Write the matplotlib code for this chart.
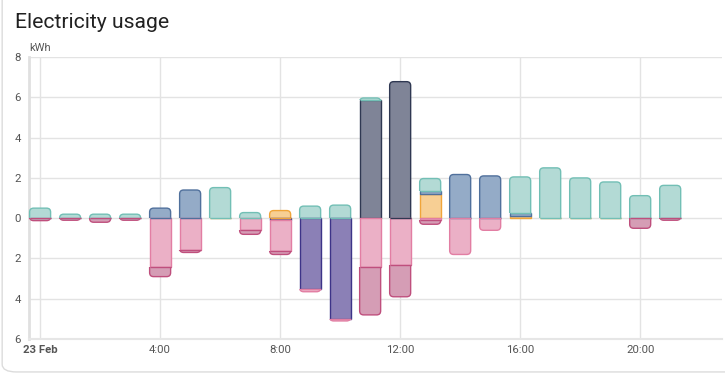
import numpy as np
import matplotlib.pyplot as plt
from matplotlib.patches import FancyBboxPatch, Rectangle

plt.rcParams['font.family'] = ['Roboto', 'DejaVu Sans']

hours = np.arange(22)

# positive stacks (kWh consumed), bottom to top
solar = [0, 0, 0, 0, 0, 0, 0.02, 0.03, 0.38, 0, 0, 0, 0, 1.22, 0, 0, 0.13, 0.02, 0.02, 0.02, 0, 0]
grid = [0, 0, 0, 0, 0.5, 1.4, 0, 0, 0, 0, 0, 0, 0, 0.13, 2.17, 2.1, 0.15, 0, 0, 0, 0, 0]
grid_peak = [0, 0, 0, 0, 0, 0, 0, 0, 0, 0, 0, 5.87, 6.78, 0, 0, 0, 0, 0, 0, 0, 0, 0]
battery_out = [0.5, 0.2, 0.2, 0.2, 0, 0, 1.5, 0.25, 0, 0.6, 0.65, 0.1, 0, 0.62, 0, 0, 1.77, 2.48, 1.98, 1.78, 1.12, 1.63]

# negative stacks, from zero downwards
to_grid = [0, 0, 0, 0, 0, 0, 0, 0, 0.1, 3.5, 5.0, 0, 0, 0, 0, 0, 0, 0, 0, 0, 0, 0]
battery_in = [0, 0, 0, 0, 2.4, 1.6, 0, 0.6, 1.53, 0.15, 0.1, 2.4, 2.3, 0.08, 1.8, 0.6, 0, 0, 0, 0, 0, 0]
battery_in_grid = [0.12, 0.1, 0.2, 0.1, 0.5, 0.1, 0, 0.2, 0.17, 0, 0, 2.4, 1.6, 0.22, 0, 0, 0, 0, 0, 0, 0.5, 0.1]

xticks = [0, 4, 8, 12, 16, 20]
xticklabels = ['23 Feb', '4:00', '8:00', '12:00', '16:00', '20:00']
yticks = [-6, -4, -2, 0, 2, 4, 6, 8]

pos_series = [
    (solar, '#f7cf94', '#f0a53a'),
    (grid, '#94abc7', '#50709c'),
    (grid_peak, '#7f8497', '#2f3852'),
    (battery_out, '#b3dad5', '#72bfb5'),
]
neg_series = [
    (to_grid, '#8b80b6', '#3d3488'),
    (battery_in, '#ebb0c6', '#e27ea3'),
    (battery_in_grid, '#d59db5', '#bf4f7d'),
]

fig = plt.figure(figsize=(7.25, 3.78), dpi=100)
fig.patches.append(FancyBboxPatch((0.003, 0.016), 1.2, 1.2, boxstyle='round,pad=0,rounding_size=0.02',
                                  transform=fig.transFigure, facecolor='white', edgecolor='#dcdcdc',
                                  lw=1, zorder=-5))

ax = fig.add_axes([0.040, 0.103, 0.956, 0.746])
ax.set_facecolor('none')
ax.set_xlim(-0.37, 22.73)
ax.set_ylim(-6, 8)

# corner radius: ~4 px in both directions
rx = 4 / 30.0
ry = 4 / 20.2


def round_outer(rect, sign):
    # swap the outermost segment of a stack for one with rounded outer corners
    x, y, w, h = rect.get_x(), rect.get_y(), rect.get_width(), rect.get_height()
    lo, hi = min(y, y + h), max(y, y + h)
    if sign > 0:
        box = FancyBboxPatch((x, lo - ry), w, hi - lo + ry, mutation_aspect=ry / rx,
                             boxstyle='round,pad=0,rounding_size=%f' % rx)
        clip = Rectangle((x - 1, lo), w + 2, 50, transform=ax.transData)
        inner = lo
    else:
        box = FancyBboxPatch((x, lo), w, hi - lo + ry, mutation_aspect=ry / rx,
                             boxstyle='round,pad=0,rounding_size=%f' % rx)
        clip = Rectangle((x - 1, hi - 50), w + 2, 50, transform=ax.transData)
        inner = hi
    ec = rect.get_edgecolor()
    box.set_facecolor(rect.get_facecolor())
    box.set_edgecolor(ec)
    box.set_linewidth(rect.get_linewidth())
    box.set_zorder(rect.get_zorder())
    ax.add_patch(box)
    box.set_clip_path(clip)
    ax.hlines(inner, x, x + w, colors=[ec], lw=1, zorder=3.5)
    rect.remove()


for series, sign in [(pos_series, 1), (neg_series, -1)]:
    arr = np.array([s[0] for s in series])
    outer = np.array([max(np.nonzero(arr[:, i])[0]) if arr[:, i].any() else -1 for i in range(len(hours))])
    bottom = np.zeros(len(hours))
    for k, (vals, fc, ec) in enumerate(series):
        v = sign * np.array(vals)
        m = v != 0
        bars = ax.bar(hours[m], v[m], 0.7, bottom=bottom[m], color=fc, edgecolor=ec, linewidth=1, zorder=3)
        for hr, rect in zip(hours[m], bars.patches):
            if outer[hr] == k:
                round_outer(rect, sign)
        bottom += v

ax.set_xticks(xticks)
ax.set_xticklabels(xticklabels)
ax.get_xticklabels()[0].set_fontweight('bold')
ax.set_yticks(yticks)
ax.set_yticklabels([str(abs(t)) for t in yticks])
ax.tick_params(length=0, labelsize=8.2, colors='#555555', pad=4)
ax.tick_params(axis='y', pad=6)
ax.grid(True, color='#e3e3e3', lw=1, zorder=0)

for s in ['top', 'right']:
    ax.spines[s].set_visible(False)
ax.spines['left'].set_color('#e0e0e0')
ax.spines['left'].set_linewidth(2)
ax.spines['bottom'].set_color('#e6e6e6')
ax.spines['bottom'].set_linewidth(1.5)

fig.text(15 / 725, 1 - 28 / 378, 'Electricity usage', fontsize=15.2, color='#212121')
fig.text(29 / 725, 1 - 51 / 378, 'kWh', fontsize=8, color='#555555')

fig.savefig('out.png', dpi=100)
